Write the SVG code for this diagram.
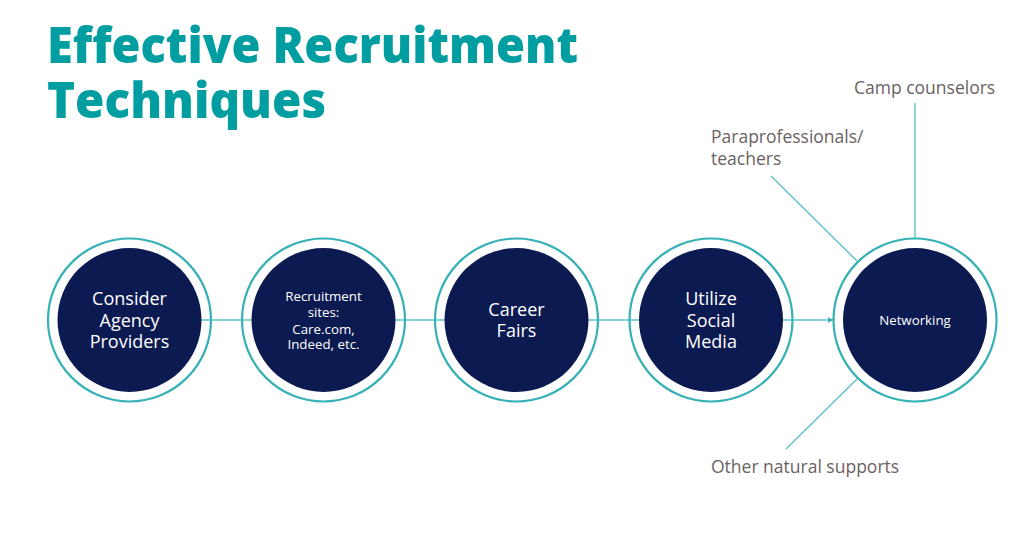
<svg xmlns="http://www.w3.org/2000/svg" width="1024" height="533" viewBox="0 0 1024 533">
<style>
.title{font-family:"Open Sans","Lato",sans-serif;font-weight:800;font-size:50px;fill:#009ea1;font-variant-ligatures:none}
.ring{fill:none;stroke:#36b1b6;stroke-width:2.2}
.core{fill:#0c1a52}
.nt{font-family:"Open Sans","Lato",sans-serif;fill:#ffffff;text-anchor:middle}
.big{font-size:18px}
.sm{font-size:13.3px}
.lbl{font-family:"Open Sans","Lato",sans-serif;font-size:17.5px;fill:#6b6262}
.conn{stroke:#5cc3c7;stroke-width:1.4;fill:none}
</style>
<defs>
<marker id="arr" viewBox="0 0 10 10" refX="9" refY="5" markerWidth="6" markerHeight="6" orient="auto" markerUnits="userSpaceOnUse">
<path d="M0,0 L10,5 L0,10 z" fill="#36b1b6"/>
</marker>
</defs>
<rect width="1024" height="533" fill="#ffffff"/>
<g id="title">
<text class="title" x="47" y="63" textLength="531" lengthAdjust="spacingAndGlyphs">Effective Recruitment</text>
<text class="title" x="47" y="118" textLength="279" lengthAdjust="spacingAndGlyphs">Techniques</text>
</g>
<g id="connectors">
<line class="conn" x1="129.5" y1="320" x2="323.5" y2="320"/>
<line class="conn" x1="323.5" y1="320" x2="516.5" y2="320"/>
<line class="conn" x1="516.5" y1="320" x2="711" y2="320"/>
<line class="conn" x1="711" y1="320" x2="833" y2="320" marker-end="url(#arr)"/>
<line class="conn" x1="915" y1="103" x2="915" y2="239"/>
<line class="conn" x1="771" y1="176" x2="857" y2="261"/>
<line class="conn" x1="786" y1="449" x2="857" y2="379"/>
</g>
<g id="n1">
<circle class="ring" cx="129.5" cy="320" r="81.5"/>
<circle class="core" cx="129.5" cy="320" r="72"/>
<text class="nt big" x="129.5" y="305">Consider</text>
<text class="nt big" x="129.5" y="327">Agency</text>
<text class="nt big" x="129.5" y="348">Providers</text>
</g>
<g id="n2">
<circle class="ring" cx="323.5" cy="320" r="81.5"/>
<circle class="core" cx="323.5" cy="320" r="72"/>
<text class="nt sm" x="323.5" y="301">Recruitment</text>
<text class="nt sm" x="323.5" y="317">sites:</text>
<text class="nt sm" x="323.5" y="334">Care.com,</text>
<text class="nt sm" x="323.5" y="349">Indeed, etc.</text>
</g>
<g id="n3">
<circle class="ring" cx="516.5" cy="320" r="81.5"/>
<circle class="core" cx="516.5" cy="320" r="72"/>
<text class="nt big" x="516.5" y="316">Career</text>
<text class="nt big" x="516.5" y="337">Fairs</text>
</g>
<g id="n4">
<circle class="ring" cx="711" cy="320" r="81.5"/>
<circle class="core" cx="711" cy="320" r="72"/>
<text class="nt big" x="711" y="305">Utilize</text>
<text class="nt big" x="711" y="327">Social</text>
<text class="nt big" x="711" y="348">Media</text>
</g>
<g id="n5">
<circle class="ring" cx="915" cy="320" r="81.5"/>
<circle class="core" cx="915" cy="320" r="72"/>
<text class="nt sm" x="915" y="325">Networking</text>
</g>
<g id="labels">
<text class="lbl" x="854" y="94">Camp counselors</text>
<text class="lbl" x="711" y="143">Paraprofessionals/</text>
<text class="lbl" x="711" y="165">teachers</text>
<text class="lbl" x="711" y="473">Other natural supports</text>
</g>
</svg>
